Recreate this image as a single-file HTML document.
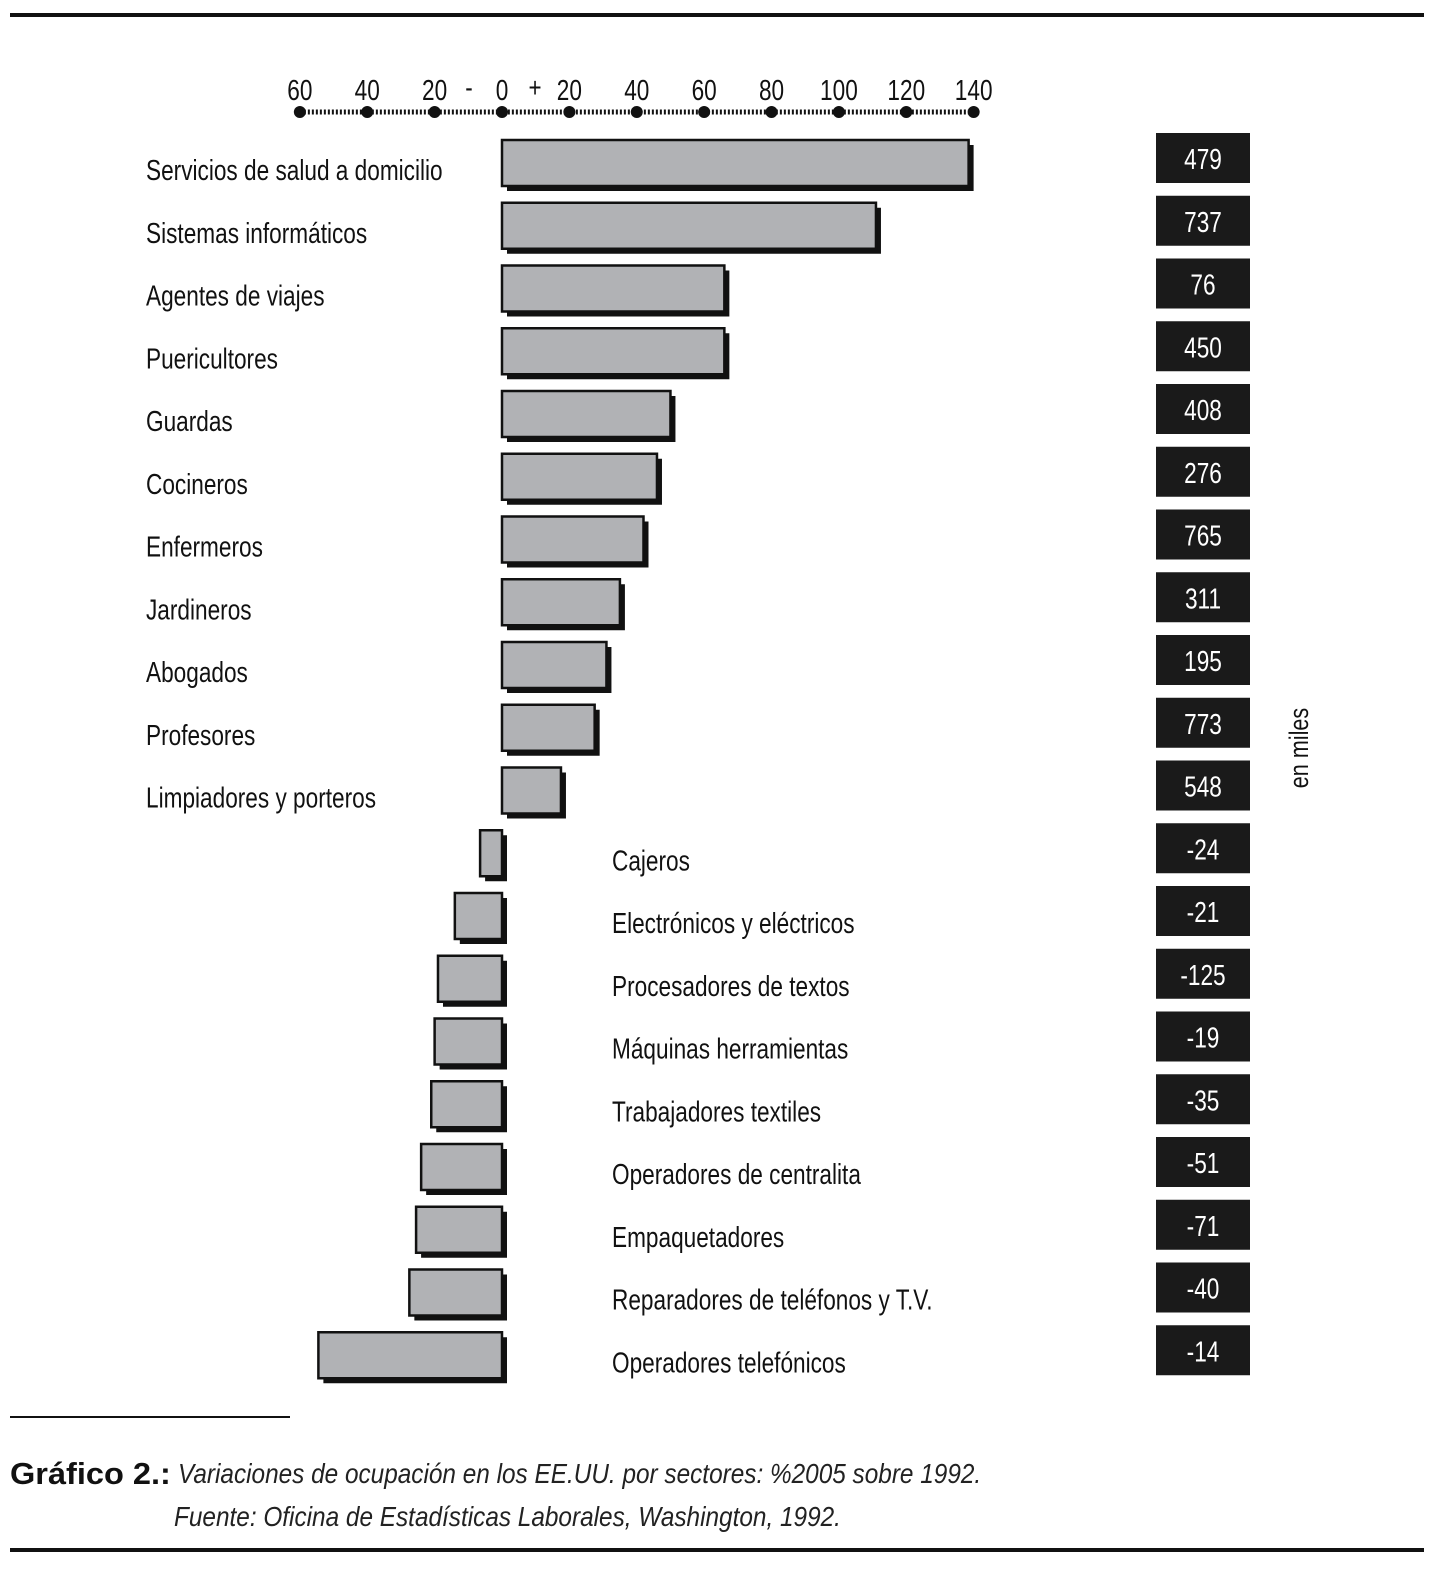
<!DOCTYPE html>
<html><head><meta charset="utf-8"><style>
body{margin:0;background:#fff;}
svg text{font-family:"Liberation Sans",sans-serif;}
</style></head><body>
<svg id="c" width="1449" height="1585" viewBox="0 0 1449 1585" xmlns="http://www.w3.org/2000/svg">
<rect x="10" y="13" width="1414" height="4" fill="#111"/>
<rect x="10" y="1548" width="1414" height="4" fill="#111"/>
<rect x="10" y="1416" width="280" height="2" fill="#111"/>
<g id="axis"></g>
<g id="bars"></g>
<text transform="translate(1308 748) rotate(-90) scale(0.8 1)" x="0" y="0" font-size="27" text-anchor="middle" fill="#111">en miles</text>
<text transform="translate(10 1484) scale(1.05 1)" x="0" y="0" font-size="31" font-weight="bold" fill="#111">Gráfico 2.:</text>
<text transform="translate(178 1483) scale(0.87 1)" x="0" y="0" font-size="28" font-style="italic" fill="#222">Variaciones de ocupación en los EE.UU. por sectores: %2005 sobre 1992.</text>
<text transform="translate(174 1526) scale(0.87 1)" x="0" y="0" font-size="28" font-style="italic" fill="#222">Fuente: Oficina de Estadísticas Laborales, Washington, 1992.</text>
</svg>
<script>
const categories=["Servicios de salud a domicilio","Sistemas informáticos","Agentes de viajes","Puericultores","Guardas","Cocineros","Enfermeros","Jardineros","Abogados","Profesores","Limpiadores y porteros","Cajeros","Electrónicos y eléctricos","Procesadores de textos","Máquinas herramientas","Trabajadores textiles","Operadores de centralita","Empaquetadores","Reparadores de teléfonos y T.V.","Operadores telefónicos"];
const values=[138.5,111,66,66,50,46,42,35,31,27.5,17.5,-6.5,-14,-19,-20,-21,-24,-25.5,-27.5,-54.5];
const totals=["479","737","76","450","408","276","765","311","195","773","548","-24","-21","-125","-19","-35","-51","-71","-40","-14"];
const ticks=[-60,-40,-20,0,20,40,60,80,100,120,140];
const NS="http://www.w3.org/2000/svg";
const x=v=>502+v*3.369;
const rowY=i=>140+i*62.75;
function mk(t,a,p){const e=document.createElementNS(NS,t);for(const k in a)e.setAttribute(k,a[k]);p.appendChild(e);return e;}
function txt(p,tx,ty,s,size,anchor,fill){return mk('text',{x:0,y:0,transform:`translate(${tx} ${ty}) scale(${s} 1)`,'font-size':size,'text-anchor':anchor,fill:fill},p);}
const ax=document.getElementById('axis'),bg=document.getElementById('bars');
const dl=mk('line',{x1:x(-60),x2:x(140),y1:112,y2:112,stroke:'#111','stroke-width':5,'stroke-dasharray':'2 2'},ax);


ticks.forEach(t=>{
 const c=mk('circle',{cx:x(t),cy:112,r:6,fill:'#111'},ax);
 
 
 const tx=txt(ax,x(t),100,0.78,29,'middle','#111');
 tx.textContent=Math.abs(t);
 
 
});
[["-",469],["+",535]].forEach(s=>{const t=txt(ax,s[1],97,0.8,28,'middle','#111');t.textContent=s[0];
 
 });
categories.forEach((c,i)=>{
 const y=rowY(i),v=values[i];
 const x0=Math.min(x(0),x(v)),w=Math.abs(x(v)-x(0));
 const sh=mk('rect',{x:x0+5,y:y+5,width:w,height:46,fill:'#111'},bg);
 
 
 const r=mk('rect',{x:x0,y:y,width:w,height:46,fill:'#b1b2b5',stroke:'#111','stroke-width':2.5},bg);
 
 
 const lt=txt(bg,v>=0?146:612,y+40,0.78,29,'start','#111');
 lt.textContent=c;
 
 
 const b=mk('rect',{x:1156,y:y-7,width:94,height:50,fill:'#1a1a1a'},bg);
 
 
 const bt=txt(bg,1203,y+29,0.78,29,'middle','#fff');
 bt.textContent=totals[i];
 
 
});
</script>
</body></html>
